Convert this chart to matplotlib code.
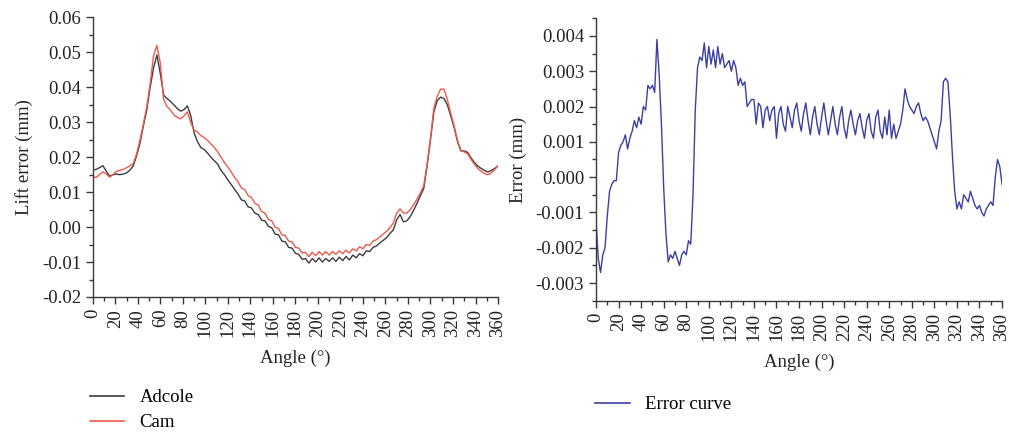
import matplotlib
matplotlib.use("Agg")
import matplotlib.pyplot as plt
from matplotlib.ticker import MultipleLocator, FormatStrFormatter
from matplotlib.lines import Line2D

plt.rcParams['font.family'] = ['Liberation Serif', 'DejaVu Serif']
plt.rcParams['axes.unicode_minus'] = True

# ---------------- data: left panel (lift error) ----------------
lift_angles = list(range(0, 361, 3))
adcole = [
    0.0164, 0.0165, 0.0170, 0.0176, 0.0160, 0.0146, 0.0150, 0.0152, 0.0150, 0.0152,
    0.0155, 0.0163, 0.0175, 0.0205, 0.0240, 0.0290, 0.0335, 0.0400, 0.0455, 0.0493,
    0.0440, 0.0378, 0.0368, 0.0360, 0.0350, 0.0340, 0.0332, 0.0336, 0.0347, 0.0320,
    0.0270, 0.0245, 0.0228, 0.0222, 0.0212, 0.0200, 0.0190, 0.0180, 0.0162, 0.0150,
    0.0135, 0.0122, 0.0108, 0.0095, 0.0078, 0.0075, 0.0058, 0.0055, 0.0040, 0.0036,
    0.0020, 0.0018, 0.0002, -0.0002, -0.0020, -0.0022, -0.0040, -0.0042, -0.0058, -0.0060,
    -0.0075, -0.0078, -0.0092, -0.0090, -0.0103, -0.0090, -0.0100, -0.0088, -0.0100, -0.0090,
    -0.0098, -0.0088, -0.0098, -0.0086, -0.0096, -0.0084, -0.0094, -0.0080, -0.0088, -0.0076,
    -0.0082, -0.0068, -0.0070, -0.0058, -0.0054, -0.0045, -0.0038, -0.0030, -0.0018, -0.0008,
    0.0021, 0.0036, 0.0015, 0.0018, 0.0030, 0.0048, 0.0068, 0.0090, 0.0110, 0.0175,
    0.0250, 0.0330, 0.0362, 0.0372, 0.0368, 0.0350, 0.0318, 0.0285, 0.0245, 0.0218,
    0.0218, 0.0214, 0.0198, 0.0185, 0.0175, 0.0168, 0.0162, 0.0158, 0.0162, 0.0168,
    0.0175,
]
cam = [
    0.0145, 0.0142, 0.0150, 0.0158, 0.0152, 0.0143, 0.0150, 0.0160, 0.0162, 0.0165,
    0.0170, 0.0175, 0.0182, 0.0210, 0.0250, 0.0295, 0.0345, 0.0410, 0.0490, 0.0520,
    0.0470, 0.0365, 0.0345, 0.0335, 0.0322, 0.0314, 0.0310, 0.0318, 0.0330, 0.0300,
    0.0278, 0.0272, 0.0262, 0.0256, 0.0248, 0.0238, 0.0228, 0.0215, 0.0200, 0.0185,
    0.0172, 0.0158, 0.0142, 0.0130, 0.0112, 0.0108, 0.0090, 0.0085, 0.0068, 0.0063,
    0.0045, 0.0040, 0.0022, 0.0018, 0.0000, -0.0004, -0.0022, -0.0024, -0.0040, -0.0042,
    -0.0058, -0.0060, -0.0074, -0.0072, -0.0085, -0.0072, -0.0082, -0.0070, -0.0080, -0.0070,
    -0.0080, -0.0070, -0.0078, -0.0068, -0.0076, -0.0066, -0.0074, -0.0062, -0.0068, -0.0056,
    -0.0062, -0.0050, -0.0052, -0.0040, -0.0036, -0.0028, -0.0020, -0.0012, -0.0002, 0.0012,
    0.0040, 0.0052, 0.0040, 0.0040, 0.0050, 0.0064, 0.0080, 0.0098, 0.0118, 0.0180,
    0.0255, 0.0340, 0.0375, 0.0395, 0.0395, 0.0365, 0.0325, 0.0290, 0.0248, 0.0220,
    0.0215, 0.0210, 0.0194, 0.0180, 0.0168, 0.0160, 0.0153, 0.0150, 0.0155, 0.0165,
    0.0175,
]

# ---------------- data: right panel (error curve) ----------------
err_angles = list(range(0, 361, 2))
error_curve = [
    -0.00125, -0.0023, -0.0027, -0.0022, -0.0020, -0.0011, -0.0004, -0.0002, -0.0001, -0.0001,
    0.0007, 0.0009, 0.0010, 0.0012, 0.0008, 0.0011, 0.0013, 0.0016, 0.0014, 0.0017,
    0.0015, 0.0020, 0.0019, 0.0026, 0.0025, 0.0026, 0.0024, 0.0039, 0.0029, 0.0015,
    -0.0003, -0.0016, -0.0024, -0.0022, -0.0023, -0.0021, -0.0023, -0.0025, -0.0022, -0.0021,
    -0.0022, -0.0018, -0.0019, -0.0005, 0.0019, 0.0031, 0.0034, 0.0033, 0.0038, 0.0031,
    0.0037, 0.0032, 0.0036, 0.0031, 0.0037, 0.0032, 0.0035, 0.0031, 0.0032, 0.0033,
    0.0030, 0.0033, 0.0031, 0.0026, 0.0028, 0.0026, 0.0027, 0.0020, 0.0021, 0.0022,
    0.0022, 0.0015, 0.0021, 0.0020, 0.0014, 0.0019, 0.0020, 0.0016, 0.0019, 0.0020,
    0.0011, 0.0018, 0.0020, 0.0015, 0.0013, 0.0020, 0.0017, 0.0014, 0.0019, 0.0021,
    0.0016, 0.0013, 0.0018, 0.0021, 0.0016, 0.0012, 0.0017, 0.0020, 0.0015, 0.0012,
    0.0017, 0.0021, 0.0016, 0.0012, 0.0016, 0.0020, 0.0015, 0.0012, 0.0017, 0.0020,
    0.0014, 0.0011, 0.0016, 0.0019, 0.0015, 0.0012, 0.0016, 0.0018, 0.0014, 0.0011,
    0.0016, 0.0018, 0.0013, 0.0011, 0.0017, 0.0019, 0.0013, 0.0011, 0.0017, 0.0012,
    0.0019, 0.0011, 0.0015, 0.0011, 0.0013, 0.0015, 0.0019, 0.0025, 0.0022, 0.0020,
    0.0019, 0.0018, 0.0020, 0.0021, 0.0018, 0.0016, 0.0017, 0.0016, 0.0014, 0.0012,
    0.0010, 0.0008, 0.0013, 0.0016, 0.0027, 0.0028, 0.0027, 0.0018, 0.0006, -0.0004,
    -0.0009, -0.0007, -0.0009, -0.0005, -0.0006, -0.0007, -0.0004, -0.0006, -0.0008, -0.0009,
    -0.0008, -0.0010, -0.0011, -0.0009, -0.0008, -0.0007, -0.0008, 0.0000, 0.0005, 0.0003,
    -0.0002,
]

x_ticks = list(range(0, 361, 20))

C_ADCOLE = '#3c3c3c'
C_CAM = '#ee5a4a'
C_ERR = '#3b40a0'
C_AX = '#3a3a3a'
FS = 13.5

fig = plt.figure(figsize=(10.09, 4.34), dpi=100)
ax1 = fig.add_axes([0.0919, 0.3157, 0.4017, 0.644])
ax2 = fig.add_axes([0.5907, 0.307, 0.4024, 0.651])


def style(ax):
    for s in ('top', 'right'):
        ax.spines[s].set_visible(False)
    for s in ('left', 'bottom'):
        ax.spines[s].set_color(C_AX)
        ax.spines[s].set_linewidth(1.0)
    ax.tick_params(which='major', direction='out', length=5, width=1.0, color=C_AX,
                   labelsize=FS, labelcolor='#222222')
    ax.tick_params(which='minor', direction='out', length=3, width=1.0, color=C_AX)
    ax.set_xlim(0, 360)
    ax.set_xticks(x_ticks)
    ax.set_xticklabels([str(t) for t in x_ticks], rotation=90)
    ax.xaxis.set_minor_locator(MultipleLocator(10))
    ax.set_xlabel('Angle (°)', fontsize=FS, color='#222222', labelpad=9)


ax1.plot(lift_angles, adcole, color=C_ADCOLE, lw=1.0, label='Adcole')
ax1.plot(lift_angles, cam, color=C_CAM, lw=1.0, label='Cam')
style(ax1)
ax1.set_ylim(-0.02, 0.06)
ax1.yaxis.set_major_locator(MultipleLocator(0.01))
ax1.yaxis.set_minor_locator(MultipleLocator(0.005))
ax1.yaxis.set_major_formatter(FormatStrFormatter('%.2f'))
ax1.set_ylabel('Lift error (mm)', fontsize=FS, color='#222222', labelpad=6)

ax2.plot(err_angles, error_curve, color=C_ERR, lw=1.0, label='Error curve')
style(ax2)
ax2.set_ylim(-0.0035, 0.0045)
ax2.set_yticks([-0.003, -0.002, -0.001, 0.0, 0.001, 0.002, 0.003, 0.004])
ax2.yaxis.set_minor_locator(MultipleLocator(0.0005))
ax2.yaxis.set_major_formatter(FormatStrFormatter('%.3f'))
ax2.set_ylabel('Error (mm)', fontsize=FS, color='#222222', labelpad=6)

h1 = [Line2D([], [], color=C_ADCOLE, lw=1.2), Line2D([], [], color=C_CAM, lw=1.2)]
fig.legend(h1, ['Adcole', 'Cam'], loc='upper left', bbox_to_anchor=(0.089, 0.103),
           frameon=False, fontsize=FS, handlelength=1.85, handletextpad=0.8,
           labelspacing=0.42, borderaxespad=0, borderpad=0)
h2 = [Line2D([], [], color=C_ERR, lw=1.2)]
fig.legend(h2, ['Error curve'], loc='upper left', bbox_to_anchor=(0.590, 0.087),
           frameon=False, fontsize=FS, handlelength=1.85, handletextpad=0.8,
           borderaxespad=0, borderpad=0)

fig.savefig('out.png', dpi=100)
